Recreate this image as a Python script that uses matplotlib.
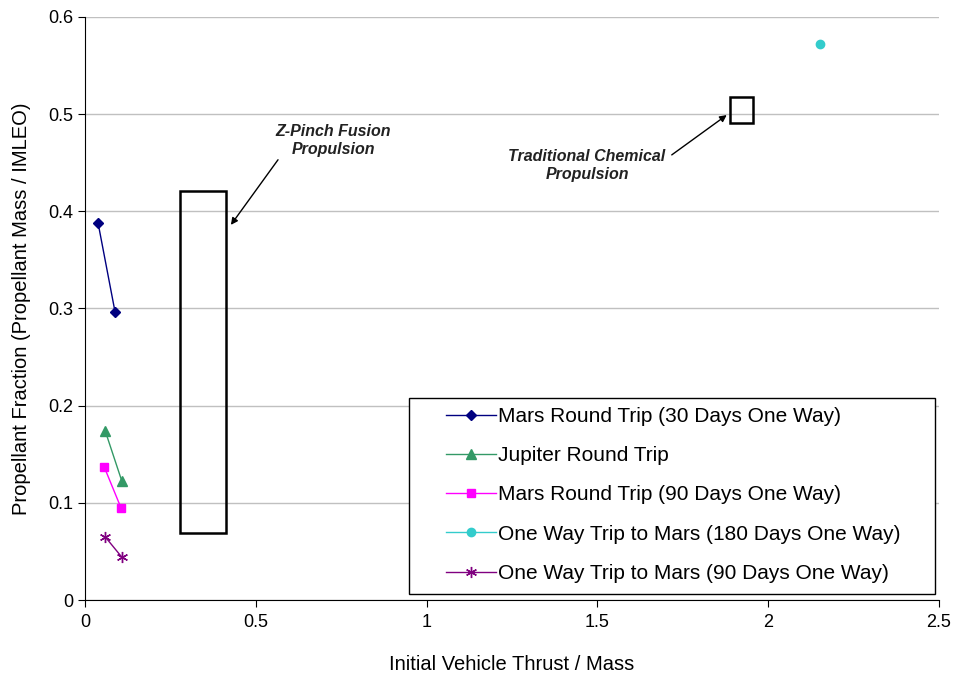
import matplotlib.pyplot as plt
from matplotlib.patches import Rectangle

plt.rcParams['font.family'] = ['Liberation Sans', 'DejaVu Sans']

# series data
mars30_x = [0.038, 0.088]
mars30_y = [0.388, 0.296]
jupiter_x = [0.059, 0.108]
jupiter_y = [0.174, 0.122]
mars90_x = [0.056, 0.105]
mars90_y = [0.137, 0.095]
oneway180_x = [2.152]
oneway180_y = [0.572]
oneway90_x = [0.059, 0.108]
oneway90_y = [0.065, 0.044]

# regions marked on the chart
zpinch_x = [0.278, 0.413]
zpinch_y = [0.069, 0.421]
chem_x = [1.89, 1.955]
chem_y = [0.491, 0.518]

fig = plt.figure(figsize=(9.56, 6.75), dpi=100)
ax = fig.add_axes([0.089, 0.111, 0.893, 0.864])

ax.plot(mars30_x, mars30_y, color='#000080', marker='D', markersize=5, lw=1,
        label='Mars Round Trip (30 Days One Way)')
ax.plot(jupiter_x, jupiter_y, color='#339966', marker='^', markersize=7, lw=1,
        label='Jupiter Round Trip')
ax.plot(mars90_x, mars90_y, color='#ff00ff', marker='s', markersize=6, lw=1,
        label='Mars Round Trip (90 Days One Way)')
ax.plot(oneway180_x, oneway180_y, color='#33cccc', marker='o', markersize=6, lw=1,
        label='One Way Trip to Mars (180 Days One Way)')
ax.plot(oneway90_x, oneway90_y, color='#800080', marker=(6, 2, 0), markersize=8, lw=1,
        label='One Way Trip to Mars (90 Days One Way)')

ax.add_patch(Rectangle((zpinch_x[0], zpinch_y[0]), zpinch_x[1] - zpinch_x[0],
                       zpinch_y[1] - zpinch_y[0], fill=False, lw=1.8, ec='black'))
ax.add_patch(Rectangle((chem_x[0], chem_y[0]), chem_x[1] - chem_x[0],
                       chem_y[1] - chem_y[0], fill=False, lw=1.8, ec='black'))

note_style = dict(ha='center', va='center', fontsize=11.5, style='italic',
                  fontweight='bold', color='#222222')
ax.text(0.726, 0.473, 'Z-Pinch Fusion\nPropulsion', **note_style)
ax.text(1.47, 0.447, 'Traditional Chemical\nPropulsion', **note_style)
ax.annotate('', xy=(0.427, 0.386), xytext=(0.565, 0.453),
            arrowprops=dict(arrowstyle='-|>', color='black', lw=1,
                            shrinkA=0, shrinkB=0))
ax.annotate('', xy=(1.879, 0.499), xytext=(1.718, 0.458),
            arrowprops=dict(arrowstyle='-|>', color='black', lw=1,
                            shrinkA=0, shrinkB=0))

ax.set_xlim(0, 2.5)
ax.set_ylim(0, 0.6)
ax.set_xticks([0, 0.5, 1, 1.5, 2, 2.5])
ax.set_xticklabels(['0', '0.5', '1', '1.5', '2', '2.5'])
ax.set_yticks([0, 0.1, 0.2, 0.3, 0.4, 0.5, 0.6])
ax.set_yticklabels(['0', '0.1', '0.2', '0.3', '0.4', '0.5', '0.6'])
ax.yaxis.grid(True, color='#c0c0c0', lw=1)
ax.set_axisbelow(True)
ax.spines['top'].set_visible(False)
ax.spines['right'].set_visible(False)
ax.tick_params(direction='out', labelsize=13, length=5)
ax.tick_params(axis='x', pad=5)

ax.set_xlabel('Initial Vehicle Thrust / Mass', fontsize=14.5, labelpad=17)
ax.set_ylabel('Propellant Fraction (Propellant Mass / IMLEO)', fontsize=14.5, labelpad=12)

# legend frame drawn separately so its wide left margin matches
ax.add_patch(Rectangle((0.379, 0.0103), 0.616, 0.3362, transform=ax.transAxes,
                       fill=True, fc='white', ec='black', lw=1, zorder=4))
leg = ax.legend(loc='upper left', bbox_to_anchor=(0.4227, 0.331), fontsize=15,
                frameon=False, handlelength=2.4, handletextpad=0.1, borderpad=0,
                labelspacing=0.97, borderaxespad=0)
leg.set_zorder(5)

fig.savefig('out.png', dpi=100)
